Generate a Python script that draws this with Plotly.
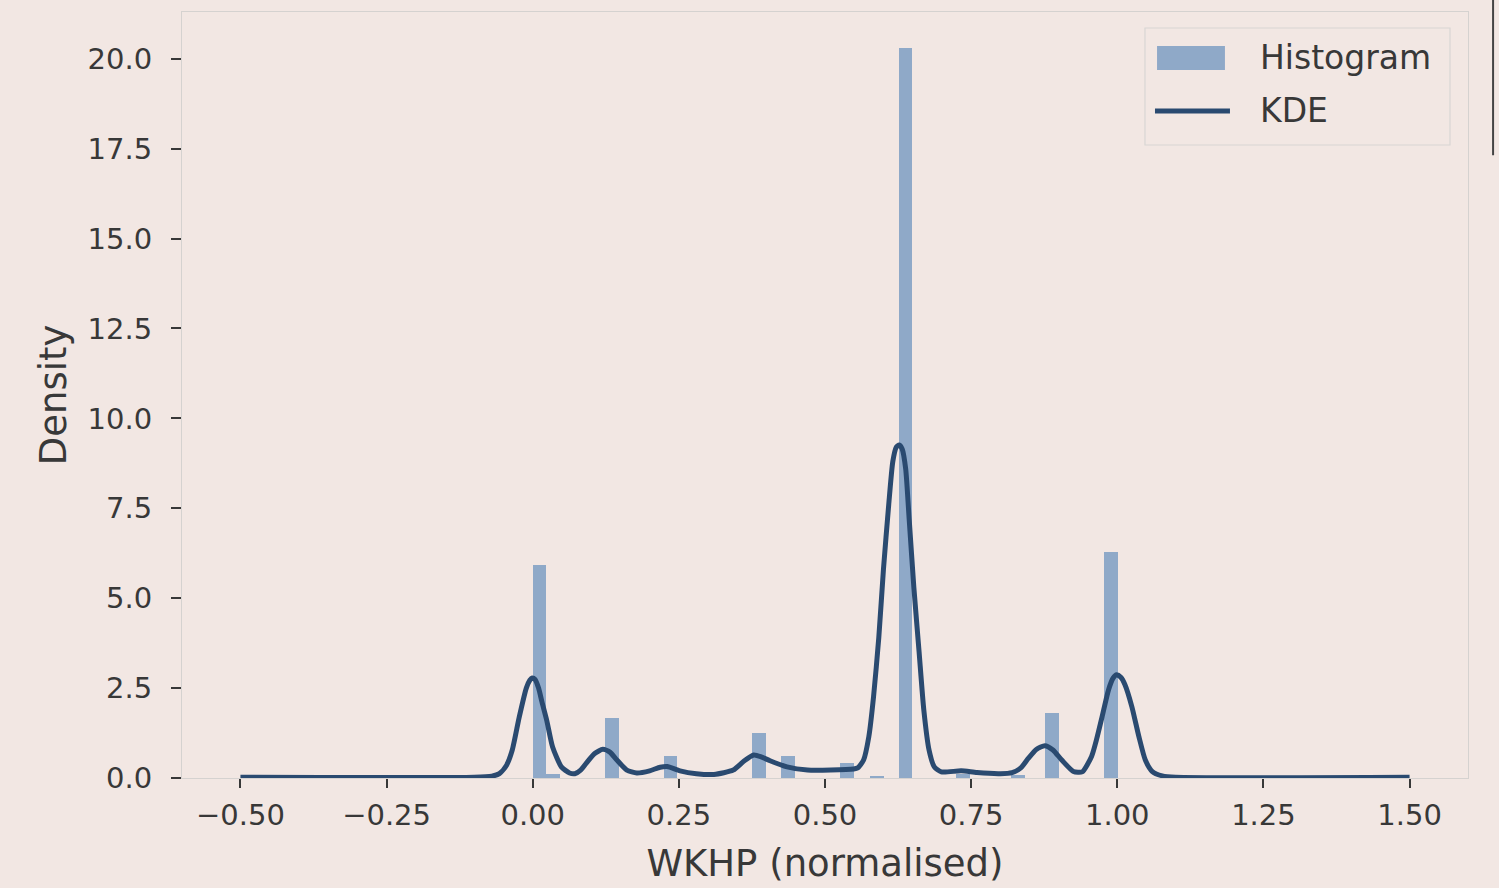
import plotly.graph_objects as go

# Histogram of normalised WKHP (bin centres, density heights)
bin_centers = [0.0115, 0.035, 0.136, 0.236, 0.387, 0.437, 0.538, 0.589,
               0.638, 0.736, 0.83, 0.888, 0.989]
bin_heights = [5.92, 0.10, 1.67, 0.61, 1.25, 0.60, 0.42, 0.06,
               20.3, 0.10, 0.08, 1.81, 6.29]
bin_width = 0.0233

# Kernel density estimate sampled along the x axis
kde_x = [-0.50, -0.10, -0.07, -0.057, -0.045, -0.035, -0.023, -0.011, -0.005,
         -0.001, 0.004, 0.010, 0.016, 0.024, 0.034, 0.049, 0.063, 0.072, 0.082,
         0.092, 0.106, 0.12, 0.132, 0.144, 0.161, 0.178, 0.20, 0.218, 0.23,
         0.252, 0.28, 0.31, 0.343, 0.362, 0.378, 0.392, 0.406, 0.435, 0.47,
         0.51, 0.549, 0.556, 0.566, 0.575, 0.583, 0.592, 0.600, 0.609, 0.616,
         0.622, 0.627, 0.632, 0.638, 0.644, 0.652, 0.661, 0.669, 0.678, 0.687,
         0.699, 0.733, 0.76, 0.80, 0.82, 0.835, 0.848, 0.862, 0.876, 0.89,
         0.905, 0.925, 0.94, 0.956, 0.965, 0.974, 0.985, 0.993, 0.999, 1.006,
         1.013, 1.025, 1.037, 1.048, 1.06, 1.077, 1.10, 1.50]
kde_y = [0.02, 0.02, 0.05, 0.12, 0.35, 0.78, 1.70, 2.50, 2.72,
         2.78, 2.74, 2.50, 2.10, 1.60, 0.86, 0.31, 0.14, 0.12, 0.22,
         0.42, 0.68, 0.80, 0.72, 0.50, 0.22, 0.14, 0.20, 0.30, 0.32,
         0.20, 0.12, 0.10, 0.22, 0.48, 0.64, 0.58, 0.48, 0.31, 0.22,
         0.22, 0.25, 0.28, 0.50, 1.15, 2.25, 3.90, 5.80, 7.60, 8.80,
         9.20, 9.26, 9.15, 8.60, 7.20, 5.30, 3.50, 1.90, 0.78, 0.31,
         0.17, 0.20, 0.15, 0.12, 0.15, 0.28, 0.55, 0.80, 0.90, 0.78,
         0.50, 0.18, 0.17, 0.60, 1.10, 1.70, 2.45, 2.78, 2.87, 2.80,
         2.60, 1.98, 1.15, 0.50, 0.18, 0.06, 0.02, 0.02]

x_ticks = [-0.5, -0.25, 0.0, 0.25, 0.5, 0.75, 1.0, 1.25, 1.5]
y_ticks = [0.0, 2.5, 5.0, 7.5, 10.0, 12.5, 15.0, 17.5, 20.0]

BG = "#f2e7e3"
BAR = "#8fa9c8"
LINE = "#2a4a70"
TXT = "#383838"
FONT = "DejaVu Sans"

fig = go.Figure()
fig.add_trace(go.Bar(x=bin_centers, y=bin_heights, width=bin_width,
                     marker=dict(color=BAR, line=dict(width=0)),
                     name="Histogram", showlegend=False))
fig.add_trace(go.Scatter(x=kde_x, y=kde_y, mode="lines",
                         line=dict(color=LINE, width=5, shape="spline",
                                   smoothing=0.6),
                         name="KDE", showlegend=False))

axis_common = dict(showgrid=False, zeroline=False, showline=True, mirror=True,
                   linecolor="#d5d2d0", linewidth=1.2, ticks="outside",
                   tickcolor=TXT, tickwidth=1.5, automargin=False,
                   tickfont=dict(family=FONT, size=29, color=TXT))

fig.update_xaxes(range=[-0.6, 1.6], tickvals=x_ticks,
                 ticktext=[f"{v:.2f}".replace("-", "\u2212") for v in x_ticks],
                 ticklen=9, ticklabelstandoff=2,
                 title=dict(text="WKHP (normalised)", standoff=19,
                            font=dict(family=FONT, size=37, color=TXT)),
                 **axis_common)
fig.update_yaxes(range=[0, 21.3], tickvals=y_ticks,
                 ticktext=[f"{v:.1f}" for v in y_ticks],
                 ticklen=10, ticklabelstandoff=13,
                 title=dict(text="Density", standoff=9,
                            font=dict(family=FONT, size=37, color=TXT)),
                 **axis_common)

# Legend panel
shapes = [
    dict(type="rect", xref="paper", yref="paper", x0=0.7488, x1=0.986,
         y0=0.8264, y1=0.9791, line=dict(color="#d8d6d4", width=1.2),
         fillcolor=BG, layer="above"),
    dict(type="rect", xref="paper", yref="paper", x0=0.7582, x1=0.8110,
         y0=0.9243, y1=0.9556, line=dict(width=0), fillcolor=BAR, layer="above"),
    dict(type="line", xref="paper", yref="paper", x0=0.7566, x1=0.8149,
         y0=0.8708, y1=0.8708, line=dict(color=LINE, width=5), layer="above"),
    dict(type="line", xref="paper", yref="paper", x0=1.0195, x1=1.0195,
         y0=0.813, y1=1.0157, line=dict(color="#444444", width=2)),
]
annotations = [
    dict(text="Histogram", xref="paper", yref="paper", x=0.8367, y=0.940,
         xanchor="left", yanchor="middle", showarrow=False,
         font=dict(family=FONT, size=33, color=TXT)),
    dict(text="KDE", xref="paper", yref="paper", x=0.8367, y=0.8708,
         xanchor="left", yanchor="middle", showarrow=False,
         font=dict(family=FONT, size=33, color=TXT)),
]

fig.update_layout(width=1499, height=888,
                  margin=dict(l=182, r=31, t=12, b=110, autoexpand=False),
                  paper_bgcolor=BG, plot_bgcolor=BG,
                  bargap=0, showlegend=False,
                  shapes=shapes, annotations=annotations,
                  font=dict(family=FONT, color=TXT))

fig.write_html("out.html")
